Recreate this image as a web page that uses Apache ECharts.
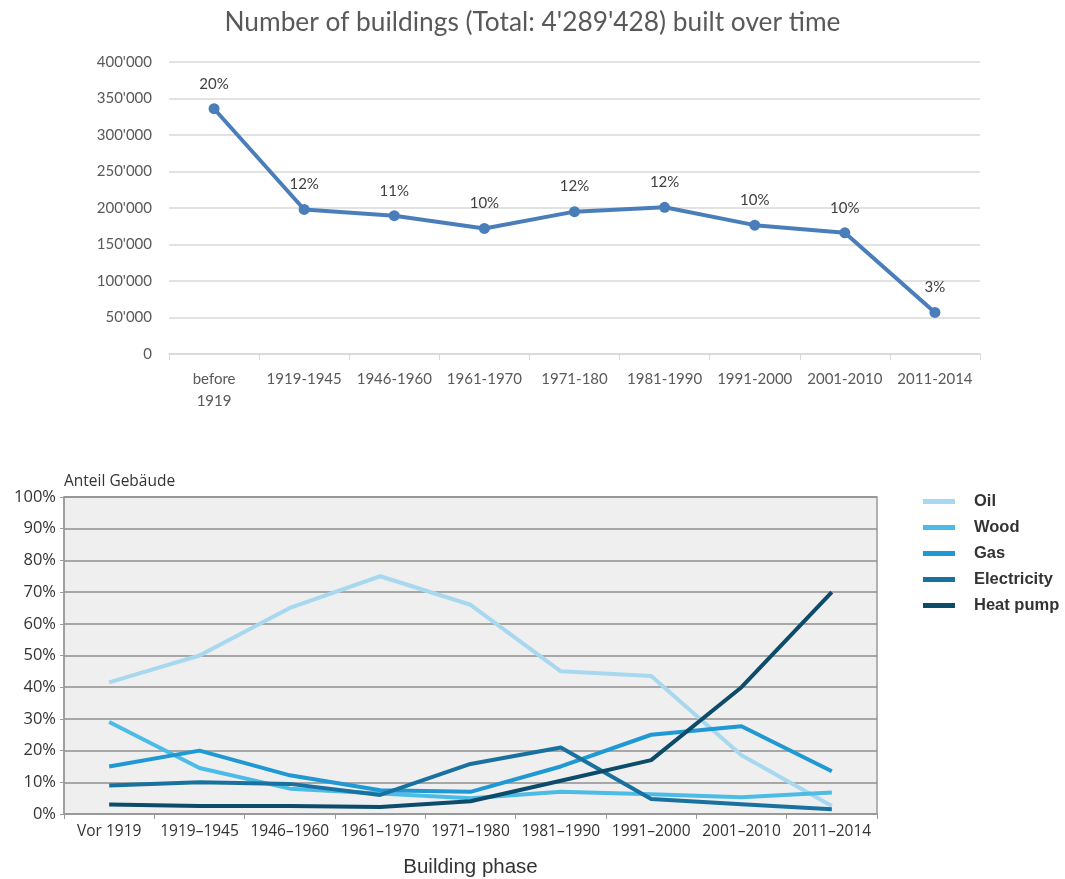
<!DOCTYPE html>
<html>
<head>
<meta charset="utf-8">
<title>Buildings over time</title>
<script src="https://cdn.jsdelivr.net/npm/echarts@6/dist/echarts.min.js"></script>
<style>
  html, body { margin: 0; padding: 0; background: #fff; }
  #chart { width: 1065px; height: 879px; }
</style>
</head>
<body>
<div id="chart"></div>
<script>
// 上图：建筑数量
const periodsTop = ["before\n1919", "1919-1945", "1946-1960", "1961-1970", "1971-180",
  "1981-1990", "1991-2000", "2001-2010", "2011-2014"];
const buildings = [336000, 198000, 189500, 172000, 195000, 201000, 176500, 166000, 57000];
const shares = ["20%", "12%", "11%", "10%", "12%", "12%", "10%", "10%", "3%"];

// 下图：供暖方式占比
const periodsBottom = ["Vor 1919", "1919–1945", "1946–1960", "1961–1970", "1971–1980",
  "1981–1990", "1991–2000", "2001–2010", "2011–2014"];
const oil = [41.5, 50, 65, 75, 66, 45, 43.5, 18.5, 2.5];
const wood = [29, 14.5, 8, 6.5, 5, 7, 6.2, 5.3, 6.8];
const gas = [15, 20, 12.2, 7.5, 7, 15, 25, 27.7, 13.5];
const electricity = [9, 10, 9.5, 6, 15.8, 21, 4.7, 3.1, 1.5];
const heatPump = [3, 2.5, 2.5, 2.2, 4, 10.5, 17, 40, 70];

const heatNames = ["Oil", "Wood", "Gas", "Electricity", "Heat pump"];
const heatData = [oil, wood, gas, electricity, heatPump];
const heatColors = ["#a8d8ef", "#4cbbe6", "#1f98d4", "#19719f", "#0d4b6b"];

// 千位分隔符用撇号
function swissFmt(v) {
  return String(v).replace(/\B(?=(\d{3})+(?!\d))/g, "'");
}

let chart = echarts.init(document.getElementById("chart"));

let bottomSeries = heatNames.map(function (name, i) {
  return {
    name: name,
    type: "line",
    xAxisIndex: 1,
    yAxisIndex: 1,
    data: heatData[i],
    symbol: "none",
    lineStyle: { width: 4, color: heatColors[i] },
    itemStyle: { color: heatColors[i] },
    z: 3 + i
  };
});

chart.setOption({
  animation: false,
  title: {
    text: "Number of buildings (Total: 4'289'428) built over time",
    left: "center",
    top: 5,
    textStyle: { fontFamily: "Lato", fontSize: 26.3, fontWeight: "normal", color: "#595959" }
  },
  legend: {
    data: heatNames,
    orient: "vertical",
    left: 918,
    top: 488,
    itemWidth: 32,
    itemHeight: 5,
    itemGap: 9,
    icon: "rect",
    textStyle: { fontFamily: "Liberation Sans", fontWeight: "bold", fontSize: 16.5, lineHeight: 16, color: "#333", padding: [0, 0, 0, 14] }
  },
  grid: [
    { left: 169, right: 85, top: 62, bottom: 879 - 354 },
    { left: 64, right: 1065 - 877, top: 497, bottom: 879 - 815,
      show: true, backgroundColor: "#efefef", borderColor: "#9a9a9a", borderWidth: 1.5 }
  ],
  xAxis: [
    {
      gridIndex: 0,
      type: "category",
      data: periodsTop,
      axisLine: { lineStyle: { color: "#d9d9d9", width: 1.5 } },
      axisTick: { show: true, length: 6, lineStyle: { color: "#d9d9d9" } },
      axisLabel: { fontFamily: "Lato", fontSize: 15, color: "#595959", margin: 14, lineHeight: 22, interval: 0 }
    },
    {
      gridIndex: 1,
      type: "category",
      data: periodsBottom,
      name: "Building phase",
      nameLocation: "middle",
      nameGap: 43,
      nameTextStyle: { fontFamily: "Liberation Sans", fontSize: 20.5, color: "#333" },
      axisLine: { lineStyle: { color: "#9a9a9a", width: 1.5 } },
      axisTick: { show: true, length: 5, lineStyle: { color: "#9a9a9a" } },
      axisLabel: { fontFamily: "Open Sans", fontSize: 15.5, color: "#333", margin: 10, interval: 0 }
    }
  ],
  yAxis: [
    {
      gridIndex: 0,
      type: "value",
      min: 0,
      max: 400000,
      interval: 50000,
      axisLine: { show: false },
      axisTick: { show: false },
      splitLine: { lineStyle: { color: "#d9d9d9", width: 1.5 } },
      axisLabel: { fontFamily: "Lato", fontSize: 15, color: "#595959", margin: 17, formatter: swissFmt }
    },
    {
      gridIndex: 1,
      type: "value",
      min: 0,
      max: 100,
      interval: 10,
      name: "Anteil Gebäude",
      nameLocation: "end",
      nameGap: 7,
      nameTextStyle: { fontFamily: "Open Sans", fontSize: 15.5, color: "#333", align: "left" },
      axisLine: { show: true, lineStyle: { color: "#9a9a9a", width: 1.5 } },
      axisTick: { show: true, length: 4, lineStyle: { color: "#9a9a9a" } },
      splitLine: { lineStyle: { color: "#8f8f8f", width: 1.5 } },
      axisLabel: { fontFamily: "Open Sans", fontSize: 16.5, color: "#333", margin: 8, formatter: "{value}%" }
    }
  ],
  series: [
    {
      name: "Buildings",
      type: "line",
      xAxisIndex: 0,
      yAxisIndex: 0,
      data: buildings,
      symbol: "circle",
      symbolSize: 11,
      lineStyle: { width: 4, color: "#4a7ebb" },
      itemStyle: { color: "#4a7ebb" },
      label: {
        show: true,
        position: "top",
        distance: 12,
        fontFamily: "Lato",
        fontSize: 15,
        color: "#404040",
        formatter: function (p) { return shares[p.dataIndex]; }
      }
    }
  ].concat(bottomSeries)
});
</script>
</body>
</html>
